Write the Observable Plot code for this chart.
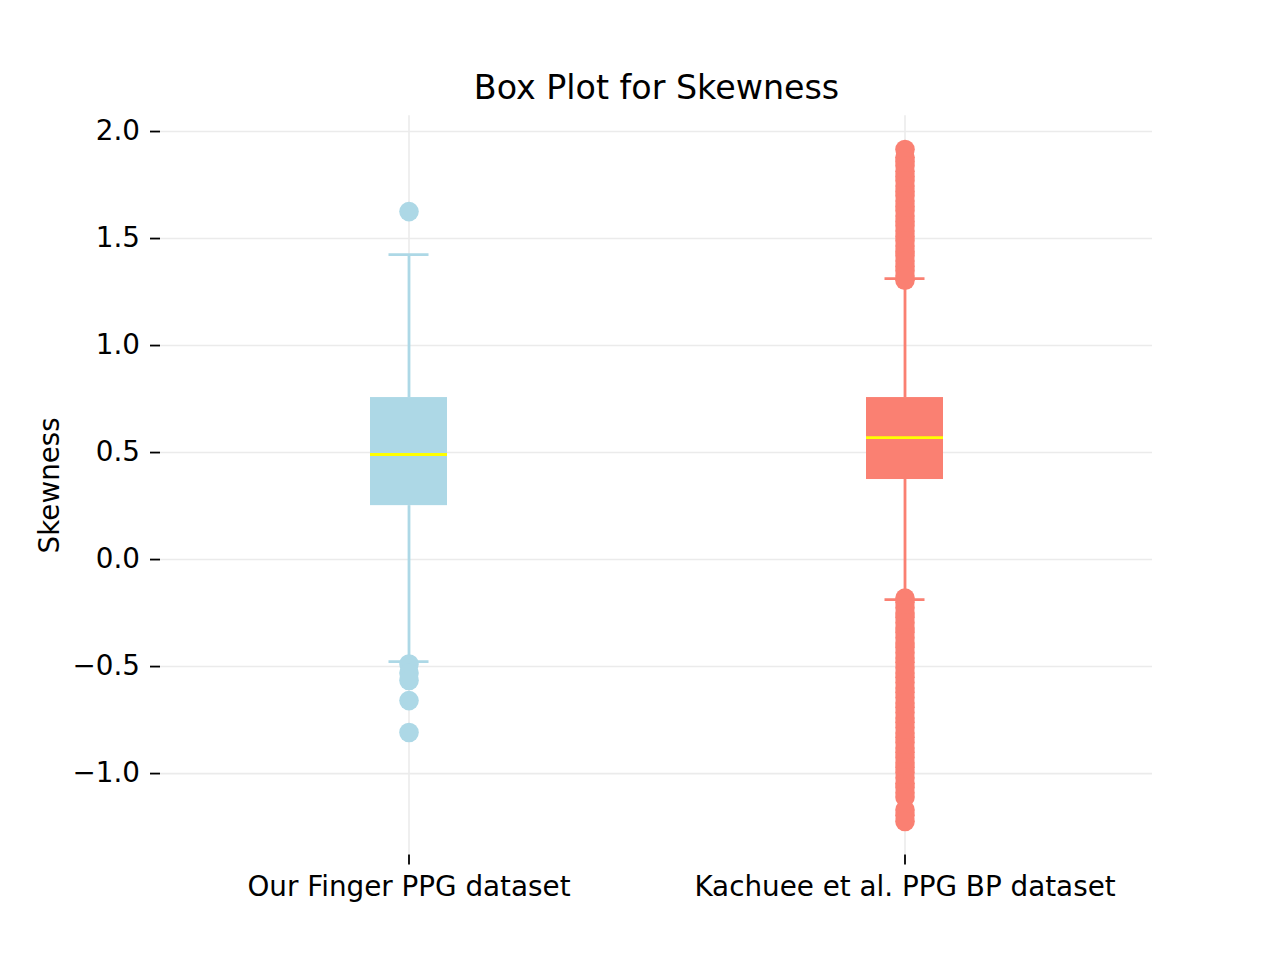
<!DOCTYPE html>
<html>
<head>
<meta charset="utf-8">
<script src="https://cdn.jsdelivr.net/npm/d3@7"></script>
<script src="https://cdn.jsdelivr.net/npm/@observablehq/plot@0.6"></script>
<style>
  html, body { margin: 0; padding: 0; background: #fff; }
  #chart svg { display: block; }
</style>
</head>
<body>
<div id="chart"></div>
<script>
// ---- Data ----
const categories = ["Our Finger PPG dataset", "Kachuee et al. PPG BP dataset"];
const boxColors = ["#add8e6", "#fa8072"];
const q1 = [0.252, 0.374];
const medians = [0.491, 0.570];
const q3 = [0.757, 0.757];
const whiskerLow = [-0.477, -0.187];
const whiskerHigh = [1.425, 1.313];
const outliersFinger = [1.626, -0.488, -0.530, -0.565, -0.659, -0.808];
const outliersKachuee = [
  1.916, 1.880, 1.860, 1.840, 1.815, 1.790, 1.770, 1.745, 1.720, 1.700,
  1.675, 1.650, 1.630, 1.605, 1.580, 1.560, 1.535, 1.510, 1.490, 1.465,
  1.440, 1.420, 1.395, 1.370, 1.350, 1.325, 1.305,
  -0.180, -0.200, -0.225, -0.250, -0.270, -0.295, -0.320, -0.340, -0.365,
  -0.390, -0.410, -0.435, -0.460, -0.480, -0.505, -0.530, -0.550, -0.575,
  -0.600, -0.620, -0.645, -0.670, -0.690, -0.715, -0.740, -0.760, -0.785,
  -0.810, -0.830, -0.855, -0.880, -0.900, -0.925, -0.950, -0.970, -0.995,
  -1.020, -1.045, -1.065, -1.090, -1.110, -1.170, -1.195, -1.224
];
const yTicks = [-1.0, -0.5, 0.0, 0.5, 1.0, 1.5, 2.0];
const yDomain = [-1.380, 2.074];
const title = "Box Plot for Skewness";
const yLabel = "Skewness";

// ---- Tables built from the arrays ----
const boxes = categories.map((c, i) => ({
  cat: c, color: boxColors[i], q1: q1[i], med: medians[i], q3: q3[i],
  lo: whiskerLow[i], hi: whiskerHigh[i]
}));
const fliers = [
  ...outliersFinger.map(v => ({cat: categories[0], color: boxColors[0], v})),
  ...outliersKachuee.map(v => ({cat: categories[1], color: boxColors[1], v}))
];

const font = "DejaVu Sans, Verdana, sans-serif";
const gridColor = "#ebebeb";

const chart = Plot.plot({
  width: 1280,
  height: 960,
  marginLeft: 160,
  marginRight: 128,
  marginTop: 115.2,
  marginBottom: 105.6,
  style: {fontFamily: font, fontSize: "27.8px", color: "#000", background: "#fff"},
  x: {type: "band", domain: categories, paddingInner: 0.8448, paddingOuter: 0.4224},
  y: {domain: yDomain},
  color: {type: "identity"},
  marks: [
    Plot.gridY({ticks: yTicks, stroke: gridColor, strokeOpacity: 1, strokeWidth: 1.6}),
    Plot.gridX({stroke: gridColor, strokeOpacity: 1, strokeWidth: 1.6}),
    Plot.axisY({ticks: yTicks, tickFormat: d3.format(".1f"), tickSize: 10, tickPadding: 10.5,
      label: null, fontSize: 27.8, strokeWidth: 1.8, strokeOpacity: 1}),
    Plot.axisX({tickSize: 10, tickPadding: 11, label: null, fontSize: 27.8, strokeWidth: 1.8, strokeOpacity: 1}),
    Plot.barY(boxes, {x: "cat", y1: "q1", y2: "q3", fill: "color"}),
    Plot.ruleX(boxes, {x: "cat", y1: "q3", y2: "hi", stroke: "color", strokeWidth: 2.8}),
    Plot.ruleX(boxes, {x: "cat", y1: "lo", y2: "q1", stroke: "color", strokeWidth: 2.8}),
    Plot.tickY(boxes, {x: "cat", y: "hi", stroke: "color", strokeWidth: 2.8, inset: 18.5}),
    Plot.tickY(boxes, {x: "cat", y: "lo", stroke: "color", strokeWidth: 2.8, inset: 18.5}),
    Plot.tickY(boxes, {x: "cat", y: "med", stroke: "#ffff00", strokeWidth: 2.8}),
    Plot.dot(fliers, {x: "cat", y: "v", fill: "color", r: 9.8}),
    Plot.text([title], {text: d => d, frameAnchor: "top", lineAnchor: "bottom", dy: -16.5,
      fontSize: 33.3, fill: "#000"}),
    Plot.text([yLabel], {text: d => d, frameAnchor: "left", rotate: -90, lineAnchor: "bottom",
      textAnchor: "middle", dx: -102, fontSize: 27.8, fill: "#000"})
  ]
});
document.getElementById("chart").appendChild(chart);
</script>
</body>
</html>
